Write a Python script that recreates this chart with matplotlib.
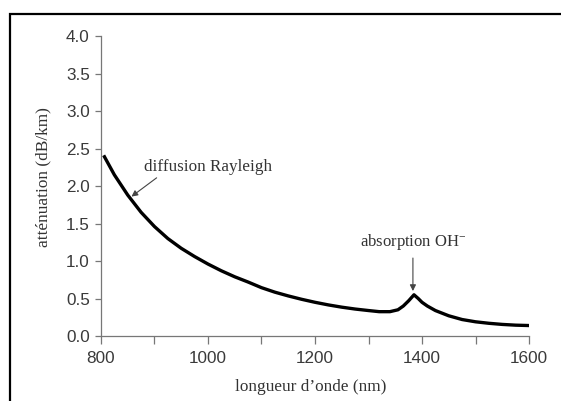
import matplotlib
matplotlib.use("Agg")
import matplotlib.pyplot as plt
from matplotlib.patches import Rectangle

# courbe d'atténuation
longueur = [805, 825, 850, 875, 900, 925, 950, 975, 1000, 1025, 1050, 1075,
            1100, 1125, 1150, 1175, 1200, 1225, 1250, 1275, 1300, 1320, 1340,
            1355, 1365, 1375, 1385, 1393, 1400, 1410, 1425, 1450, 1475, 1500,
            1525, 1550, 1575, 1600]
attenuation = [2.41, 2.15, 1.88, 1.65, 1.46, 1.30, 1.17, 1.06, 0.96, 0.87,
               0.79, 0.72, 0.645, 0.585, 0.535, 0.49, 0.45, 0.415, 0.385,
               0.36, 0.34, 0.325, 0.325, 0.35, 0.40, 0.47, 0.55, 0.50, 0.45,
               0.40, 0.34, 0.27, 0.22, 0.19, 0.17, 0.155, 0.145, 0.14]

x_ticks = [800, 900, 1000, 1100, 1200, 1300, 1400, 1500, 1600]
x_labels = ["800", "", "1000", "", "1200", "", "1400", "", "1600"]
y_ticks = [0.0, 0.5, 1.0, 1.5, 2.0, 2.5, 3.0, 3.5, 4.0]

serif = "Liberation Serif"
sans = "Liberation Sans"
plt.rcParams["mathtext.default"] = "regular"

fig = plt.figure(figsize=(5.61, 4.01), dpi=100)
ax = fig.add_axes([0.180, 0.162, 0.763, 0.748])

# cadre autour de la figure (bords droit et bas coupés)
fig.patches.append(Rectangle((10 / 561, -0.1), 1.2, 1 - 14 / 401 + 0.1,
                             transform=fig.transFigure, fill=False,
                             edgecolor="black", linewidth=1.6))

ax.plot(longueur, attenuation, color="black", linewidth=2.4,
        solid_joinstyle="round", solid_capstyle="butt")

ax.set_xlim(800, 1600)
ax.set_ylim(0, 4.0)
ax.set_xticks(x_ticks)
ax.set_xticklabels(x_labels, fontfamily=sans, fontsize=12.3, color="#3a3a3a")
ax.set_yticks(y_ticks)
ax.set_yticklabels([f"{v:.1f}" for v in y_ticks], fontfamily=sans,
                   fontsize=12.3, color="#3a3a3a")
ax.tick_params(axis="x", length=6, width=0.9, color="#777777", pad=5)
ax.tick_params(axis="y", length=4, width=0.9, color="#777777", pad=4)

for s in ["top", "right"]:
    ax.spines[s].set_visible(False)
for s in ["left", "bottom"]:
    ax.spines[s].set_color("#777777")
    ax.spines[s].set_linewidth(0.9)

fig.text(311 / 561, 1 - 387 / 401, "longueur d\u2019onde (nm)", ha="center",
         va="center", fontfamily=serif, fontsize=12.4, color="#333333")
fig.text(43 / 561, 1 - 177 / 401, "atténuation (dB/km)", ha="center",
         va="center", rotation=90, fontfamily=serif, fontsize=12.4,
         color="#333333")

ax.text(1000, 2.25, "diffusion Rayleigh", ha="center", va="center",
        fontfamily=serif, fontsize=12.3, color="#333333")
ax.annotate("", xy=(857, 1.86), xytext=(904, 2.11),
            arrowprops=dict(arrowstyle="-|>", color="#444444", lw=0.8,
                            mutation_scale=9, shrinkA=0, shrinkB=0))

ax.text(1383, 1.25, r"absorption OH$^{-}$", ha="center", va="center",
        fontfamily=serif, fontsize=12, color="#333333")
ax.annotate("", xy=(1383, 0.60), xytext=(1383, 1.04),
            arrowprops=dict(arrowstyle="-|>", color="#444444", lw=0.8,
                            mutation_scale=9, shrinkA=0, shrinkB=0))

fig.savefig("out.png", dpi=100)
